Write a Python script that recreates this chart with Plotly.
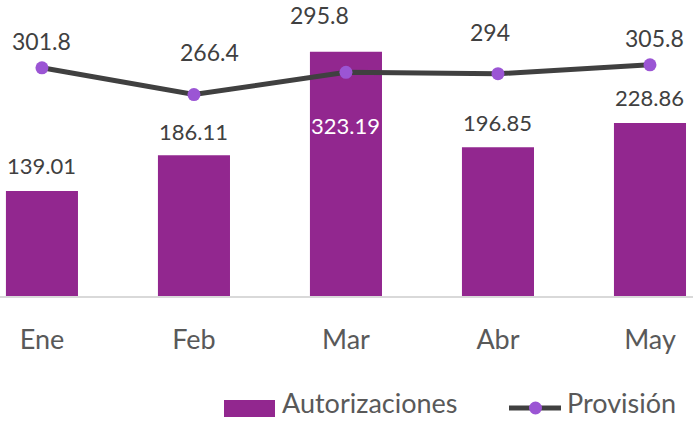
import plotly.graph_objects as go

months = ["Ene", "Feb", "Mar", "Abr", "May"]
autorizaciones = [139.01, 186.11, 323.19, 196.85, 228.86]
provision = [301.8, 266.4, 295.8, 294, 305.8]

BAR_COLOR = "#92278F"
LINE_COLOR = "#404040"
MARKER_COLOR = "#9B55D4"
FONT = "Lato, Open Sans, sans-serif"

# label offsets in pixels (style only)
bar_label_dy = [25, 24, -74, 25, 25]
bar_label_color = ["#404040", "#404040", "#FFFFFF", "#404040", "#404040"]
line_label_dy = [27, 43, 57, 42, 27]
line_label_dx = [0, 16, -26, -8, 5]

fig = go.Figure()
fig.add_trace(go.Bar(x=months, y=autorizaciones, name="Autorizaciones",
                     marker=dict(color=BAR_COLOR, line=dict(width=0)),
                     hoverinfo="skip"))
fig.add_trace(go.Scatter(x=months, y=provision, name="Provisión", mode="lines+markers",
                         line=dict(color=LINE_COLOR, width=5),
                         marker=dict(color=MARKER_COLOR, size=13, line=dict(width=0)),
                         hoverinfo="skip"))

ann = []
for i, m in enumerate(months):
    ann.append(dict(x=m, y=autorizaciones[i], xref="x", yref="y",
                    text=f"{autorizaciones[i]:.2f}", showarrow=False,
                    yanchor="middle", xanchor="center", yshift=bar_label_dy[i],
                    font=dict(family=FONT, size=22, color=bar_label_color[i])))
    ann.append(dict(x=m, y=provision[i], xref="x", yref="y",
                    text=f"{provision[i]:g}", showarrow=False,
                    yanchor="middle", xanchor="center",
                    yshift=line_label_dy[i], xshift=line_label_dx[i],
                    font=dict(family=FONT, size=23, color="#404040")))

# manual legend (paper coords: plot area spans 0..693 px wide, 0..296 px tall)
W, H = 693.0, 296.0
def px(x):
    return x / W
def py(y):
    return (H - y) / H

shapes = [
    dict(type="rect", xref="paper", yref="paper",
         x0=px(224), x1=px(275), y0=py(417), y1=py(400),
         fillcolor=BAR_COLOR, line=dict(width=0)),
    dict(type="line", xref="paper", yref="paper",
         x0=px(509), x1=px(561), y0=py(408), y1=py(408),
         line=dict(color=LINE_COLOR, width=5)),
    dict(type="circle", xref="paper", yref="paper",
         x0=px(529), x1=px(542), y0=py(414.5), y1=py(401.5),
         fillcolor=MARKER_COLOR, line=dict(width=0)),
]
ann.append(dict(x=px(280), y=py(402), xref="paper", yref="paper", text="Autorizaciones",
                showarrow=False, xanchor="left", yanchor="middle",
                font=dict(family=FONT, size=27, color="#595959")))
ann.append(dict(x=px(565), y=py(402), xref="paper", yref="paper", text="Provisión",
                showarrow=False, xanchor="left", yanchor="middle",
                font=dict(family=FONT, size=27, color="#595959")))

fig.update_layout(
    width=693, height=421,
    margin=dict(l=0, r=0, t=0, b=125),
    paper_bgcolor="white", plot_bgcolor="white",
    showlegend=False,
    bargap=0.526,
    annotations=ann,
    shapes=shapes,
    font=dict(family=FONT, color="#595959"),
)
fig.update_xaxes(range=[-0.276, 4.283], showgrid=False, showline=True,
                 linecolor="#D9D9D9", linewidth=2, ticks="", ticklabelstandoff=19,
                 tickfont=dict(family=FONT, size=27, color="#595959"), fixedrange=True)
fig.update_yaxes(range=[0, 391.5], showgrid=False, showticklabels=False,
                 zeroline=False, showline=False, fixedrange=True)

fig.write_html("out.html", config={"displayModeBar": False},
               post_script="document.body.style.margin='0';document.body.style.overflow='hidden';")
